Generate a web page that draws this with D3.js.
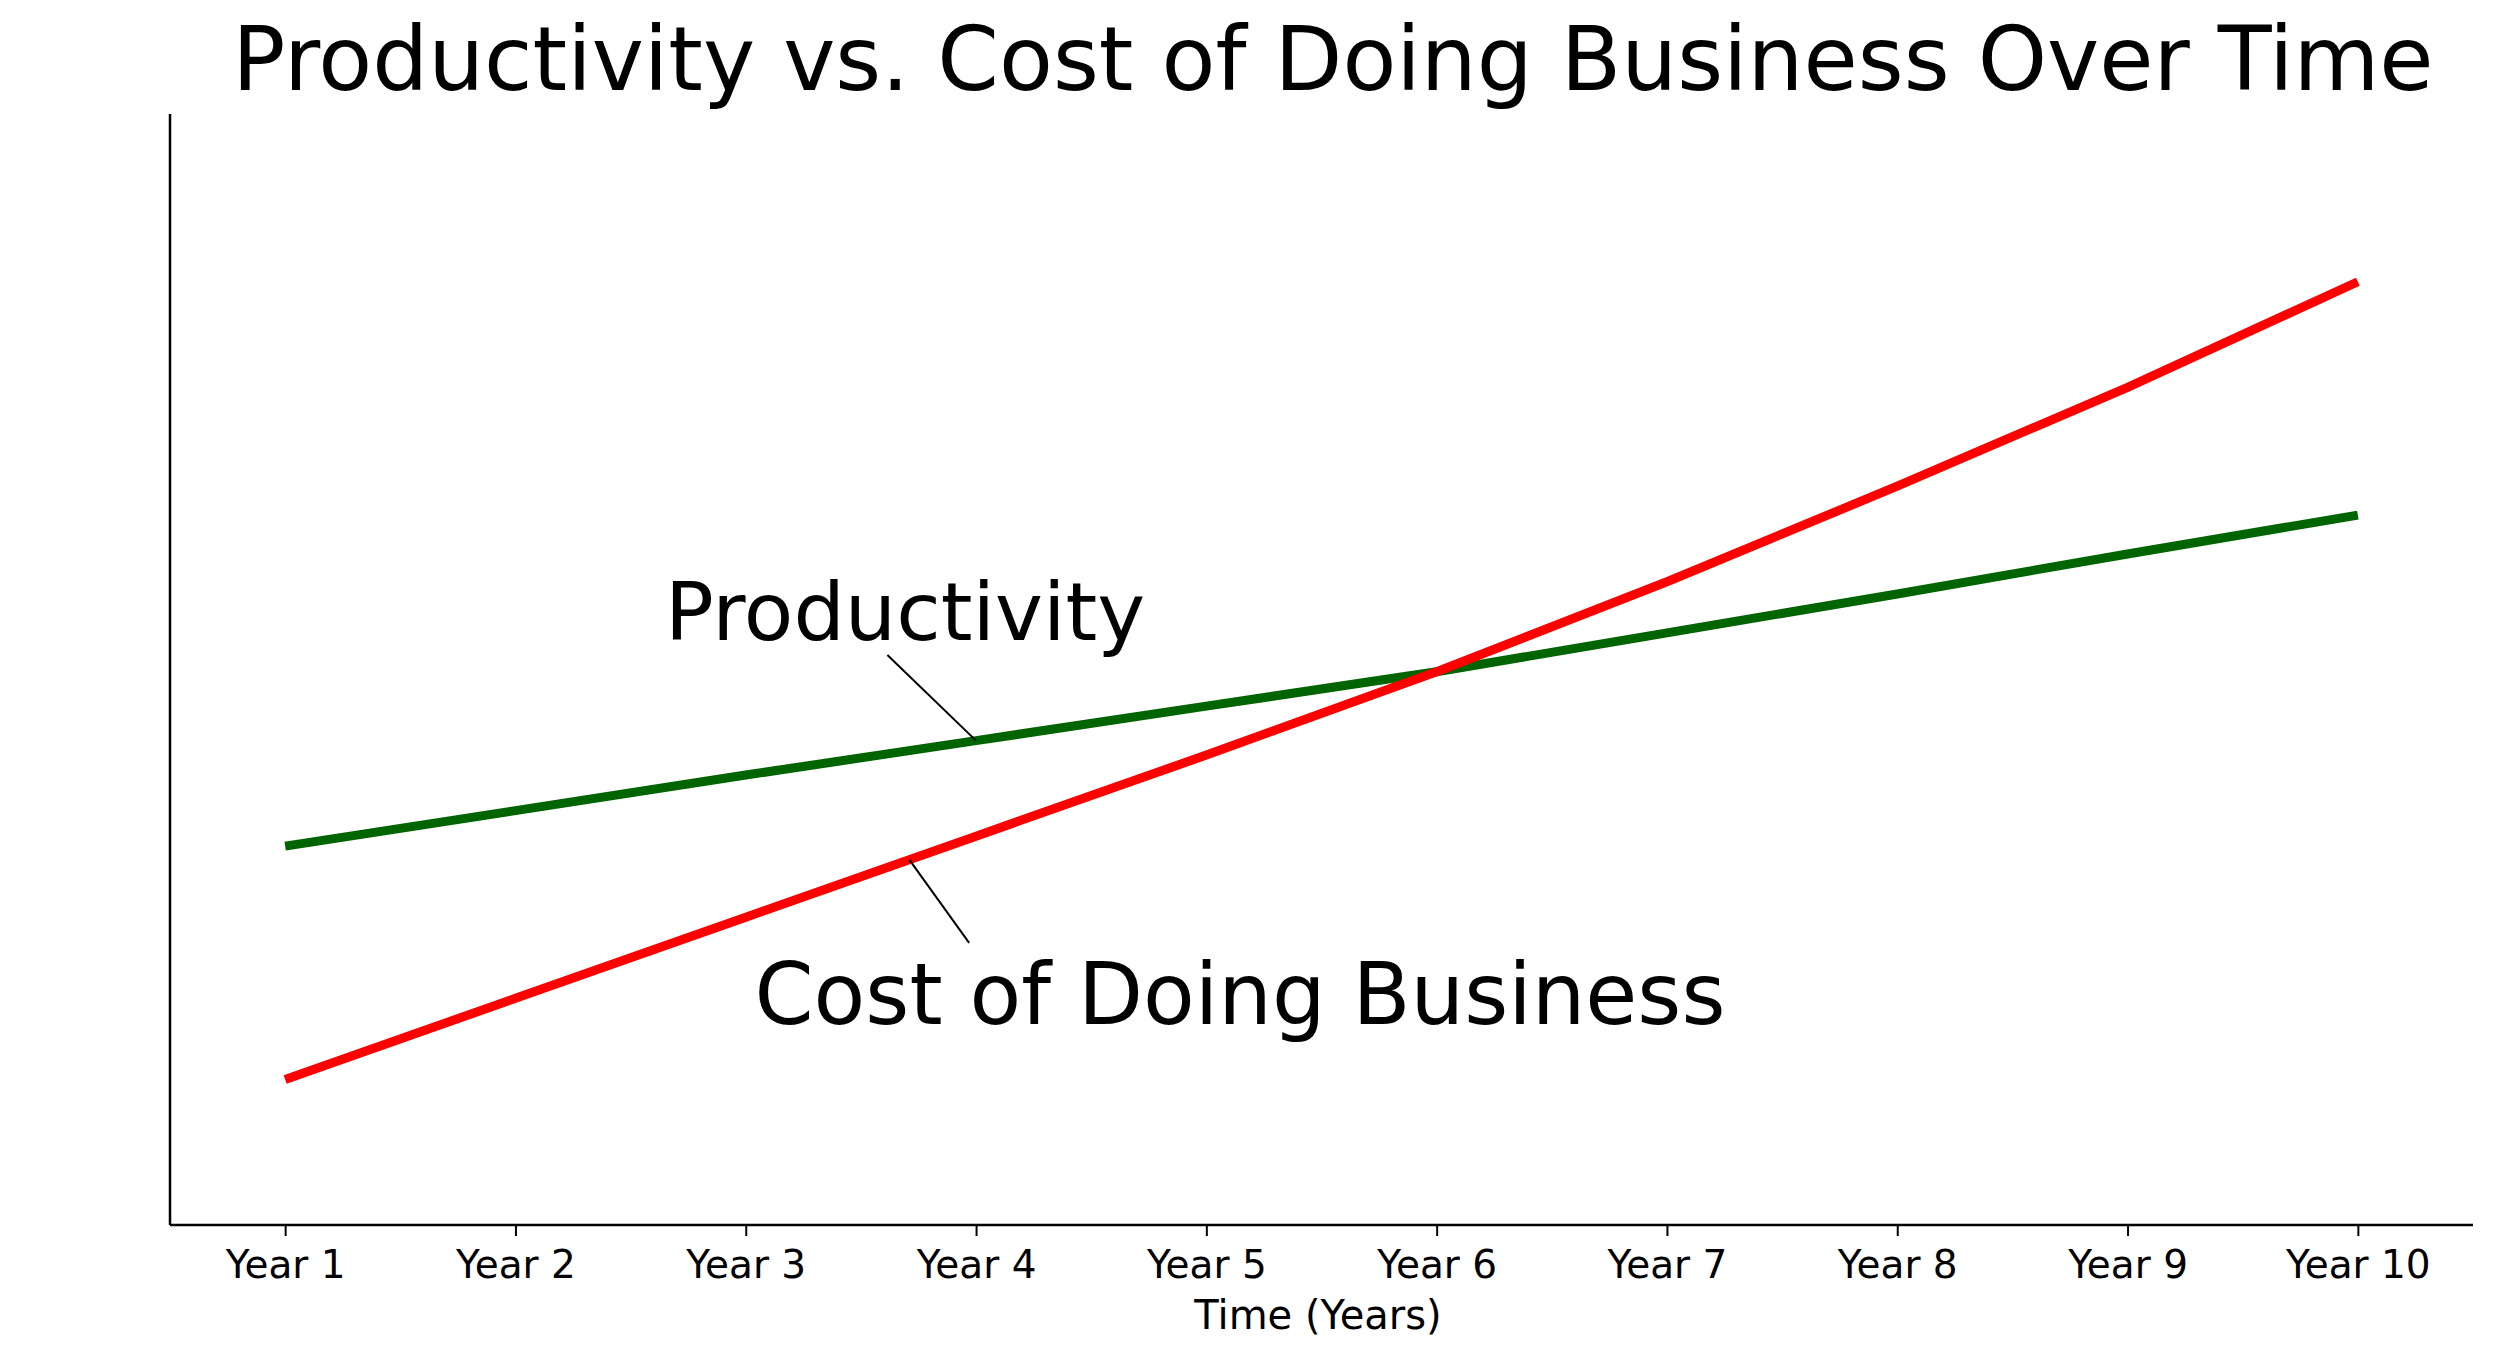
<!DOCTYPE html>
<html>
<head>
<meta charset="utf-8">
<script src="https://cdn.jsdelivr.net/npm/d3@7"></script>
<style>
  body { margin: 0; background: #fff; }
  text { font-family: "DejaVu Sans", sans-serif; fill: #000; }
</style>
</head>
<body>
<svg id="chart" width="2500" height="1364"></svg>
<script>
let years = ["Year 1", "Year 2", "Year 3", "Year 4", "Year 5",
             "Year 6", "Year 7", "Year 8", "Year 9", "Year 10"];

// values (arbitrary units, no y labels shown)
let productivity = [34.1, 37.3, 40.5, 43.6, 46.7, 49.8, 53.3, 56.8, 60.4, 63.9];
let costOfBusiness = [13.1, 20.4, 27.7, 35.0, 42.3, 49.8, 57.9, 66.5, 75.4, 84.9];

// label text, where it sits and where its leader touches the line (year index, value)
let annotations = [
  { text: "Productivity", series: productivity, at: 3, textAt: [1.649, 52.7], lineFrom: [2.615, 51.3], size: 81 },
  { text: "Cost of Doing Business", series: costOfBusiness, at: 2.71, textAt: [2.038, 18.1], lineFrom: [2.97, 25.4], size: 84.6 }
];

let title = "Productivity vs. Cost of Doing Business Over Time";
let xLabel = "Time (Years)";

let svg = d3.select("#chart");

let plotLeft = 170, plotRight = 2473, plotTop = 114, plotBottom = 1225;

let x = d3
  .scalePoint()
  .domain(years)
  .range([plotLeft, plotRight])
  .padding(0.5);

let y = d3
  .scaleLinear()
  .domain([0, 100])
  .range([plotBottom, plotTop]);

// fractional year index -> px
let xi = i => x(years[0]) + i * x.step();
let interp = (s, i) => {
  let a = Math.floor(i), b = Math.min(a + 1, s.length - 1);
  return s[a] + (s[b] - s[a]) * (i - a);
};

// axes
let xAxis = svg
  .append("g")
  .attr("transform", `translate(0,${plotBottom})`)
  .call(d3.axisBottom(x).tickSizeOuter(0).tickSize(11).tickPadding(14));

xAxis.select(".domain").attr("stroke-width", 2.5).attr("d", `M${plotLeft},0H${plotRight}`);
xAxis.selectAll(".tick line").attr("stroke-width", 2);
xAxis
  .selectAll(".tick text")
  .style("font-family", "DejaVu Sans")
  .style("font-size", "39px");

svg
  .append("g")
  .attr("transform", `translate(${plotLeft},0)`)
  .call(d3.axisLeft(y).ticks(0).tickSize(0))
  .select(".domain")
  .attr("stroke-width", 2.5)
  .attr("d", `M0,${plotTop}V${plotBottom}`);

// lines
let line = d3
  .line()
  .x((d, i) => x(years[i]))
  .y(d => y(d));

svg
  .append("path")
  .datum(productivity)
  .attr("d", line)
  .attr("fill", "none")
  .attr("stroke", "#006400")
  .attr("stroke-width", 9);

svg
  .append("path")
  .datum(costOfBusiness)
  .attr("d", line)
  .attr("fill", "none")
  .attr("stroke", "#ff0000")
  .attr("stroke-width", 9);

// annotations
annotations.forEach(a => {
  svg
    .append("line")
    .attr("x1", xi(a.lineFrom[0]))
    .attr("y1", y(a.lineFrom[1]))
    .attr("x2", xi(a.at))
    .attr("y2", y(interp(a.series, a.at)))
    .attr("stroke", "#000")
    .attr("stroke-width", 2);

  svg
    .append("text")
    .attr("x", xi(a.textAt[0]))
    .attr("y", y(a.textAt[1]))
    .style("font-size", a.size + "px")
    .text(a.text);
});

// title and axis label
svg
  .append("text")
  .attr("x", 1333)
  .attr("y", 90)
  .attr("text-anchor", "middle")
  .style("font-size", "88.2px")
  .text(title);

svg
  .append("text")
  .attr("x", 1318)
  .attr("y", 1329)
  .attr("text-anchor", "middle")
  .style("font-size", "40px")
  .text(xLabel);
</script>
</body>
</html>
